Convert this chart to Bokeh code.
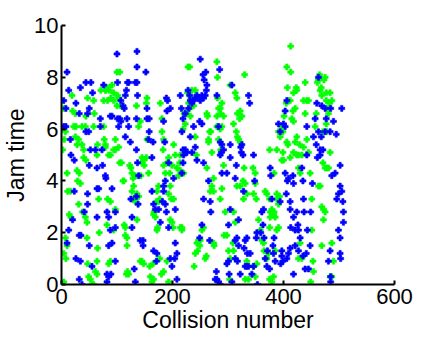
from bokeh.plotting import figure
from bokeh.models import FixedTicker, Range1d
from bokeh.embed import file_html
from bokeh.resources import INLINE

# Blue series (collision number, jam time)
blue_x = [10, 13, 4, 8, 4, 8, 16, 17, 23, 23, 20, 13, 10, 26, 34, 32, 37, 32, 35, 34, 26, 32, 44, 53, 47, 50, 44, 49, 52, 50, 47, 41, 50, 47,
          56, 61, 64, 64, 67, 64, 55, 70, 70, 73, 74, 79, 80, 82, 85, 85, 91, 88, 82, 85, 89, 82, 76, 88, 91, 91, 97, 97, 97,
          100, 101, 101, 105, 107, 103, 107, 111, 113, 115, 117, 119, 121, 115, 118, 121, 124, 125, 127, 127, 131, 133, 136, 133, 136, 137, 135, 135, 137, 135, 138, 142, 147, 147, 136, 139,
          152, 154, 154, 158, 158, 157, 165, 163, 163, 166, 169, 166, 172, 171, 175, 178, 182, 184, 187, 189, 191, 190, 184, 186, 184, 187, 189, 196, 193, 199, 196, 193,
          202, 204, 208, 205, 205, 208, 214, 216, 219, 217, 219, 223, 226, 220, 219, 217, 228, 231, 232, 235, 238, 241, 244, 247, 250, 253, 256, 259, 261, 262, 257, 255, 260, 223, 229, 232, 235, 238, 241, 244, 249, 250,
          253, 256, 256, 253, 249, 265, 268, 269, 267, 280, 283, 286, 289, 288, 292, 286, 289, 285, 304, 304, 298, 304, 301, 279, 280, 283, 277, 286, 298, 301, 302, 307, 307,
          313, 315, 316, 313, 313, 317, 319, 319, 322, 323, 324, 327, 325, 328, 329, 331, 331, 334, 334, 337, 339, 335, 337, 340, 343, 346, 346, 348, 351, 352, 353,
          359, 363, 361, 364, 365, 367, 370, 371, 375, 376, 377, 379, 381, 382, 385, 383, 391, 394, 394, 397, 397, 399, 395,
          400, 403, 403, 406, 403, 405, 407, 409, 412, 412, 412, 413, 409, 406, 417, 418, 418, 421, 421, 418, 424, 426, 427, 427, 430, 433, 435, 436, 437, 435, 439, 441, 442, 442, 443, 445, 448, 449,
          452, 454, 457, 459, 460, 461, 463, 463, 466, 466, 468, 469, 471, 475, 477, 475, 484, 485, 487, 490, 493, 495, 496, 499, 502, 502, 505, 505, 507, 508, 508, 499, 502, 502, 503, 484, 481, 485, 485]
blue_y = [8.2, 7.5, 7.1, 6.8, 6.1, 6.1, 5.6, 5.0, 4.8, 3.6, 2.5, 2.1, 1.6, 1.0, 0.9, 0.2, 0.0, 1.9, 1.9, 7.6, 7.0, 6.6, 7.8, 7.8, 6.6, 6.8, 5.9, 5.9, 5.2, 4.6, 3.5, 2.8, 1.5, 3.1,
          7.4, 5.2, 4.5, 3.7, 3.7, 2.6, 0.7, 6.4, 6.1, 5.2, 4.6, 4.2, 4.1, 2.8, 2.6, 1.5, 1.6, 2.1, 0.4, 0.3, 0.4, 0.1, 7.7, 6.5, 6.5, 3.7, 2.8, 2.2, 0.9,
          8.9, 7.8, 6.4, 6.4, 6.3, 6.1, 7.1, 6.9, 6.8, 7.3, 7.5, 7.8, 7.8, 5.7, 6.4, 6.1, 5.5, 3.3, 2.6, 2.2, 0.6, 0.1, 9.0, 7.8, 7.8, 7.3, 6.4, 5.2, 4.7, 3.4, 3.1, 1.7, 1.7, 1.5, 8.4, 4.2,
          8.2, 6.8, 6.4, 6.4, 5.9, 5.6, 5.5, 4.9, 3.6, 3.1, 2.9, 1.3, 1.2, 0.9, 2.9, 2.4, 3.2, 3.6, 4.0, 7.2, 7.1, 6.7, 6.3, 5.5, 3.8, 3.1, 2.8, 6.8, 4.7, 0.7, 1.0, 2.2,
          4.1, 1.0, 1.2, 1.6, 2.9, 0.2, 7.3, 6.8, 6.4, 5.9, 5.2, 5.2, 5.1, 5.0, 4.7, 4.3, 7.5, 7.3, 7.1, 7.0, 7.1, 7.2, 7.3, 7.2, 7.1, 7.3, 7.2, 7.3, 7.5, 7.7, 7.9, 8.1, 8.2, 6.6, 6.8, 5.7, 5.1, 6.1, 5.3, 4.8, 6.3, 8.7,
          6.2, 4.7, 3.3, 2.3, 1.8, 4.0, 3.2, 2.8, 1.7, 7.3, 6.1, 5.5, 5.4, 5.1, 5.2, 5.0, 4.3, 8.3, 5.4, 4.9, 4.3, 2.9, 2.3, 0.5, 0.2, 0.1, 0.2, 0.0, 0.8, 0.9, 0.4, 0.1, 7.7,
          4.1, 4.6, 1.8, 1.7, 1.0, 0.9, 2.5, 1.5, 0.4, 5.3, 5.1, 5.0, 5.4, 3.6, 1.4, 1.7, 0.7, 0.7, 1.8, 7.3, 7.0, 1.2, 0.7, 1.2, 0.4, 0.7, 5.0, 4.0, 1.8, 2.0, 0.0,
          2.0, 2.3, 2.8, 2.9, 1.8, 1.0, 0.7, 1.3, 0.6, 4.5, 4.2, 3.3, 1.5, 1.2, 0.9, 1.8, 6.2, 5.9, 3.2, 1.3, 1.1, 0.9, 0.8,
          6.2, 6.1, 6.7, 7.1, 4.3, 3.5, 4.0, 4.1, 3.2, 2.9, 1.4, 2.2, 1.2, 1.0, 4.2, 3.9, 2.6, 2.1, 1.5, 0.4, 2.8, 2.3, 2.1, 1.3, 1.8, 4.5, 4.0, 3.3, 2.8, 1.1, 0.6, 1.2, 5.0, 6.1, 2.1, 0.6, 1.5, 2.8,
          3.9, 5.7, 6.4, 5.4, 7.0, 4.9, 8.0, 5.9, 5.2, 5.0, 5.7, 6.9, 5.2, 6.8, 6.4, 5.9, 5.9, 6.8, 4.2, 6.3, 4.3, 5.8, 3.3, 3.5, 3.8, 4.6, 6.8, 3.6, 3.2, 2.8, 2.4, 2.1, 1.8, 1.2, 1.0, 1.3, 0.9, 0.3, 0.1]

# Green series (collision number, jam time)
green_x = [4, 5, 2, 7, 10, 11, 16, 14, 17, 7, 10, 4, 8, 4, 19, 20, 25, 22, 26, 25, 28, 31, 37, 28, 32, 29, 34, 31, 38, 43, 46, 46, 47, 49, 52, 55, 47, 44, 43, 37, 40, 40, 44,
           58, 59, 58, 64, 65, 67, 68, 65, 64, 61, 64, 58, 71, 76, 79, 80, 83, 86, 91, 94, 83, 89, 94, 76, 77, 79, 85, 88, 94, 97, 97, 79, 83, 82, 88, 85, 88, 97, 94,
           100, 105, 101, 103, 100, 106, 103, 105, 108, 112, 111, 113, 115, 115, 118, 118, 117, 119, 121, 123, 125, 127, 129, 127, 130, 129, 133, 133, 136, 136, 139, 143, 145, 148, 149, 145, 142, 145, 148, 135, 142, 139, 154, 153, 154, 153,
           157, 159, 160, 163, 166, 165, 166, 167, 169, 172, 173, 175, 172, 171, 175, 177, 178, 181, 181, 183, 184, 184, 187, 177, 180, 184, 190, 193, 190, 193, 195, 196, 199, 193, 198, 196, 199, 201,
           202, 202, 205, 208, 213, 211, 214, 214, 214, 217, 217, 220, 221, 219, 223, 225, 227, 229, 231, 232, 228, 231, 233, 235, 241, 238, 241, 243, 241, 244, 247, 245, 249, 239, 256, 253, 250,
           259, 261, 262, 265, 267, 269, 265, 271, 271, 274, 268, 274, 274, 275, 262, 263, 280, 281, 281, 283, 286, 287, 280, 286, 289, 292, 289, 280, 283, 287, 292, 289, 286, 295, 293, 298, 301, 304, 303, 310, 309,
           304, 313, 316, 317, 322, 321, 310, 315, 317, 319, 322, 325, 316, 322, 327, 329, 331, 334, 310, 313, 328, 330, 334, 337, 331, 345, 349, 349, 346, 351, 346, 349, 352,
           355, 358, 361, 364, 365, 370, 373, 367, 370, 375, 376, 375, 376, 379, 382, 383, 385, 388, 388, 391, 391, 385, 382, 379, 375, 375, 383, 388, 391, 394, 397, 399, 399, 397, 388, 393,
           401, 405, 407, 409, 412, 413, 413, 406, 417, 415, 418, 421, 423, 424, 418, 424, 427, 427, 429, 421, 424, 418, 406, 408, 400, 412, 430, 433, 436, 436, 439, 442, 439, 442, 445, 433, 430, 427, 445, 448, 451, 451, 453, 454, 449,
           457, 459, 461, 463, 465, 466, 468, 469, 471, 473, 475, 477, 477, 479, 481, 483, 478, 478, 475, 471, 481, 484, 477, 484, 487, 469, 472, 475, 472, 487, 490, 487, 484, 469, 466, 463]
green_y = [6.8, 5.6, 5.2, 5.9, 4.3, 3.6, 3.6, 2.7, 2.6, 1.8, 1.5, 1.2, 1.0, 0.1, 7.3, 6.7, 6.6, 6.1, 6.1, 5.7, 5.4, 5.6, 5.4, 4.4, 4.3, 4.0, 3.9, 3.1, 2.8, 2.6, 2.4, 1.8, 0.8, 0.3, 0.2, 0.0, 7.2, 6.5, 6.1, 6.1, 5.2, 4.9, 4.8,
           7.1, 6.6, 6.1, 5.0, 5.4, 3.3, 2.0, 1.4, 0.9, 0.5, 0.4, 0.0, 7.5, 7.1, 7.5, 7.5, 7.6, 7.5, 7.7, 7.4, 7.1, 7.2, 7.1, 6.1, 5.6, 5.4, 5.0, 5.0, 5.2, 5.2, 5.6, 5.3, 3.3, 2.3, 3.2, 0.8, 0.9, 2.9, 2.1,
           8.2, 8.2, 7.3, 7.2, 6.9, 6.9, 5.3, 4.7, 4.7, 4.0, 4.0, 2.3, 2.2, 1.9, 1.8, 1.5, 0.4, 0.5, 0.4, 4.6, 4.5, 4.3, 4.1, 3.6, 3.8, 3.3, 4.2, 3.2, 3.5, 2.5, 3.4, 4.2, 4.7, 4.8, 4.6, 4.9, 0.9, 0.9, 0.8, 6.9, 6.3, 6.1, 7.2, 7.0, 5.6, 4.9,
           4.3, 0.7, 0.3, 0.1, 0.2, 0.8, 2.7, 2.8, 2.6, 2.1, 2.2, 3.8, 3.6, 3.2, 3.2, 3.3, 7.0, 6.4, 5.9, 5.2, 5.6, 4.6, 4.3, 1.0, 0.4, 0.5, 0.9, 0.1, 4.7, 4.9, 4.3, 3.8, 4.6, 3.5, 3.3, 2.5, 2.4, 2.2,
           3.3, 5.4, 5.0, 4.5, 4.7, 4.2, 4.4, 5.0, 2.2, 2.2, 2.1, 4.3, 6.6, 6.0, 6.2, 6.6, 7.4, 7.0, 6.8, 6.5, 8.4, 8.4, 7.2, 7.5, 7.5, 6.9, 5.7, 5.0, 1.2, 1.6, 1.7, 1.3, 1.5, 0.7, 2.2, 2.1, 1.7,
           1.0, 1.1, 4.5, 5.6, 5.9, 5.9, 5.5, 5.1, 3.8, 3.6, 3.6, 4.1, 1.6, 1.5, 6.6, 6.5, 8.6, 8.0, 7.2, 6.8, 6.8, 6.6, 6.5, 6.0, 6.1, 6.5, 7.0, 6.1, 5.6, 5.2, 4.6, 3.7, 3.3, 2.8, 1.9, 1.9, 1.3, 1.0, 0.2, 1.3, 1.6,
           7.7, 7.4, 7.2, 6.6, 6.7, 6.4, 6.2, 5.9, 5.7, 5.6, 5.5, 6.5, 3.8, 3.8, 4.0, 4.5, 3.9, 3.5, 2.8, 2.4, 3.3, 8.1, 0.9, 0.2, 0.2, 4.5, 4.3, 3.9, 3.5, 3.3, 0.7, 0.3, 0.8,
           2.5, 2.1, 1.7, 1.6, 1.3, 1.0, 1.2, 3.6, 3.5, 3.3, 2.6, 2.2, 2.8, 2.9, 2.7, 2.8, 2.6, 3.3, 2.1, 2.2, 3.1, 1.3, 0.3, 0.1, 0.2, 5.2, 4.3, 5.2, 5.9, 5.7, 6.1, 5.9, 5.1, 4.8, 3.5, 3.4,
           6.5, 7.0, 7.6, 7.1, 7.1, 9.2, 8.2, 8.4, 6.7, 6.4, 6.3, 6.8, 7.6, 7.5, 7.4, 5.7, 5.0, 4.5, 5.4, 5.5, 5.0, 5.1, 5.5, 5.4, 4.8, 4.9, 4.3, 5.0, 5.3, 7.1, 7.8, 7.1, 6.6, 5.6, 5.1, 1.0, 1.6, 1.0, 7.1, 4.3, 3.3, 2.1, 0.9, 0.5, 0.1,
           6.1, 6.6, 7.8, 7.9, 8.1, 7.5, 7.6, 7.3, 5.9, 7.9, 8.0, 7.1, 6.2, 6.8, 6.6, 7.0, 5.9, 4.5, 4.5, 4.7, 4.5, 5.1, 7.4, 7.4, 7.1, 3.0, 2.9, 2.8, 2.5, 1.6, 0.9, 0.3, 0.3, 1.5, 3.8, 3.8]

x_ticks = [0, 200, 400, 600]
y_ticks = [0, 2, 4, 6, 8, 10]

p = figure(width=430, height=335, output_backend="svg", toolbar_location=None,
           x_range=Range1d(0, 600), y_range=Range1d(0, 10),
           min_border_left=61, min_border_right=36, min_border_top=25, min_border_bottom=48)
p.outline_line_color = None
p.grid.visible = False
p.background_fill_color = "white"
p.border_fill_color = "white"

p.scatter(green_x, green_y, marker="plus", size=6, fill_color="#00ff00", line_color="#00ff00", line_width=0.6)
p.scatter(blue_x, blue_y, marker="plus", size=6, fill_color="#0000ff", line_color="#0000ff", line_width=0.6)

p.xaxis.ticker = FixedTicker(ticks=x_ticks)
p.yaxis.ticker = FixedTicker(ticks=y_ticks)
for ax in (p.xaxis[0], p.yaxis[0]):
    ax.axis_line_width = 2
    ax.axis_line_color = "black"
    ax.major_tick_in = 4
    ax.major_tick_out = 0
    ax.major_tick_line_width = 2
    ax.minor_tick_line_color = None
    ax.major_label_text_font = "Liberation Sans"
    ax.major_label_text_font_size = "22px"
    ax.major_label_text_color = "black"
    ax.axis_label_text_font = "Liberation Sans"
    ax.axis_label_text_font_size = "23px"
    ax.axis_label_text_font_style = "normal"
    ax.axis_label_text_color = "black"
p.xaxis.axis_label = "Collision number"
p.yaxis.axis_label = "Jam time"
p.xaxis.major_label_standoff = 4
p.yaxis.major_label_standoff = 3
p.xaxis.axis_label_standoff = 0
p.yaxis.axis_label_standoff = 2

open("out.html", "w").write(file_html(p, INLINE))
